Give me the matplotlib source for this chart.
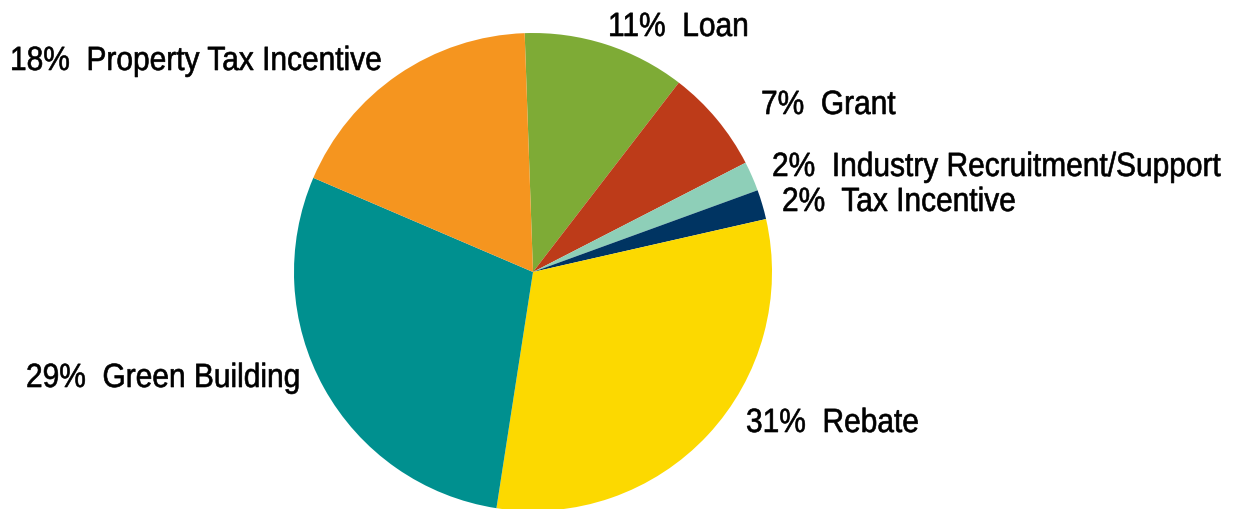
import matplotlib
matplotlib.use("Agg")
import matplotlib.pyplot as plt
from matplotlib.font_manager import FontProperties
from matplotlib.textpath import TextPath
from matplotlib.patches import PathPatch
from matplotlib.transforms import Affine2D

# Slice data, clockwise from the top
categories = ["Loan", "Grant", "Industry Recruitment/Support", "Tax Incentive",
              "Rebate", "Green Building", "Property Tax Incentive"]
shares = [11, 7, 2, 2, 31, 29, 18]
colors = ["#7EAB36", "#BD3B19", "#8ECFB8", "#003462",
          "#FCD900", "#00908F", "#F5951F"]

# Label anchors in pixels (left edge, baseline)
label_px = [(608, 37), (761, 115), (772, 177), (782, 212),
            (746, 433), (26, 388), (10, 71)]

W, H = 1239, 510
cx, cy, R = 533, 273, 239
EM = 33.6        # font size in pixels
NARROW = 0.89    # horizontal squeeze to mimic a condensed face

fig = plt.figure(figsize=(W / 100, H / 100), dpi=100)
ax = fig.add_axes([0, 0, 1, 1])
ax.pie(shares, colors=colors, startangle=92, counterclock=False,
       radius=1, wedgeprops=dict(linewidth=0))
ax.set_xlim(-cx / R, (W - cx) / R)
ax.set_ylim(-(H - cy) / R, cy / R)
ax.set_aspect("equal")
ax.axis("off")

prop = FontProperties(family="Liberation Sans")
for name, pct, (px, py) in zip(categories, shares, label_px):
    tp = TextPath((0, 0), f"{pct}%  {name}", size=EM, prop=prop)
    tr = Affine2D().scale(NARROW / R, 1 / R).translate((px - cx) / R, (cy - py) / R)
    # thin outline gives the slightly heavier weight of the original face
    ax.add_patch(PathPatch(tp, transform=tr + ax.transData,
                           facecolor="black", edgecolor="black", linewidth=0.45))

fig.savefig("out.png", dpi=100)
